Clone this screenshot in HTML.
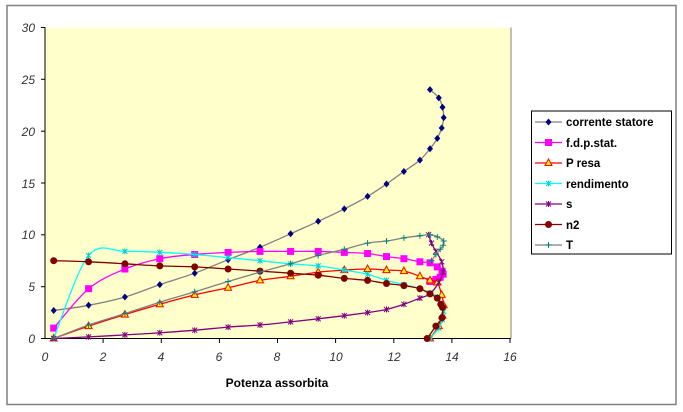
<!DOCTYPE html>
<html><head><meta charset="utf-8"><style>
html,body{margin:0;padding:0;background:#fff;}
svg{display:block;font-family:"Liberation Sans",sans-serif;}
.t{font-size:12px;fill:#333;font-style:italic;}
.l{font-size:12px;font-weight:bold;fill:#000;}
</style></head><body>
<svg id="s" width="683" height="412" viewBox="0 0 683 412">
<rect x="7" y="5.5" width="669" height="399" fill="#fff" stroke="#808080" stroke-width="1.5"/>
<rect x="45" y="27.5" width="466" height="311" fill="#ffffcc"/>
<line x1="45" y1="27" x2="45" y2="339" stroke="#000"/>
<line x1="45" y1="338.5" x2="511" y2="338.5" stroke="#000"/>
<line x1="511" y1="27.5" x2="511" y2="338.5" stroke="#808080"/>
<g stroke="#000">
<line x1="41" y1="27.5" x2="45" y2="27.5"/><line x1="41" y1="79.3" x2="45" y2="79.3"/><line x1="41" y1="131.2" x2="45" y2="131.2"/><line x1="41" y1="183" x2="45" y2="183"/><line x1="41" y1="234.8" x2="45" y2="234.8"/><line x1="41" y1="286.7" x2="45" y2="286.7"/><line x1="41" y1="338.5" x2="45" y2="338.5"/>
<line x1="103.1" y1="338" x2="103.1" y2="343"/><line x1="161.3" y1="338" x2="161.3" y2="343"/><line x1="219.4" y1="338" x2="219.4" y2="343"/><line x1="277.5" y1="338" x2="277.5" y2="343"/><line x1="335.6" y1="338" x2="335.6" y2="343"/><line x1="393.8" y1="338" x2="393.8" y2="343"/><line x1="451.9" y1="338" x2="451.9" y2="343"/><line x1="510" y1="338" x2="510" y2="343"/>
</g>
<g class="t" text-anchor="end">
<text x="35" y="32">30</text><text x="35" y="84">25</text><text x="35" y="136">20</text><text x="35" y="188">15</text><text x="35" y="239">10</text><text x="35" y="291">5</text><text x="35" y="343">0</text>
</g>
<g class="t" text-anchor="middle">
<text x="45" y="361">0</text><text x="103" y="361">2</text><text x="161" y="361">4</text><text x="219" y="361">6</text><text x="277" y="361">8</text><text x="336" y="361">10</text><text x="394" y="361">12</text><text x="452" y="361">14</text><text x="510" y="361">16</text>
</g>
<text class="l" x="277" y="387" text-anchor="middle">Potenza assorbita</text>
<g id="series"></g>
<rect x="531.5" y="111" width="140" height="143" fill="#fff" stroke="#000"/>
<g id="leg"></g>
<g class="l" style="font-size:11.5px">
<text x="566" y="126">corrente statore</text>
<text x="566" y="147">f.d.p.stat.</text>
<text x="566" y="167">P resa</text>
<text x="566" y="188">rendimento</text>
<text x="566" y="208">s</text>
<text x="566" y="229">n2</text>
<text x="566" y="249">T</text>
</g>
</svg>
<script>
var X=[0.3,1.5,2.75,3.95,5.15,6.3,7.4,8.45,9.4,10.3,11.1,11.75,12.35,12.9,13.25,13.5,13.65,13.72,13.68,13.55,13.25];
var S=[
{y:[2.7,3.2,4.0,5.2,6.3,7.6,8.8,10.1,11.3,12.5,13.7,14.9,16.1,17.2,18.3,19.3,20.3,21.3,22.3,23.2,24.0],lc:"#808080",m:"d",mc:"#000080"},
{y:[1.0,4.8,6.7,7.7,8.1,8.3,8.4,8.4,8.4,8.3,8.2,7.9,7.7,7.4,7.3,6.9,6.5,6.2,5.9,5.7,5.5],lc:"#ff00ff",m:"sq",mc:"#ff00ff",x:[0.3,1.5,2.75,3.95,5.15,6.3,7.4,8.45,9.4,10.3,11.1,11.75,12.35,12.9,13.25,13.5,13.66,13.7,13.6,13.45,13.25]},
{y:[0,1.2,2.3,3.3,4.2,4.9,5.6,6.0,6.4,6.6,6.7,6.6,6.5,6.0,5.6,5.4,4.2,3.2,2.2,1.2,0],lc:"#ff0000",m:"tri",mc:"#ffff00"},
{y:[0,8.0,8.4,8.3,8.1,7.8,7.5,7.2,7.0,6.6,6.2,5.6,5.2,4.8,4.4,4.0,3.3,2.6,1.8,1.0,0],lc:"#00ffff",m:"x",mc:"#00cccc"},
{y:[0,0.15,0.35,0.55,0.8,1.1,1.3,1.6,1.9,2.2,2.5,2.8,3.3,3.9,4.3,5.4,6.4,7.4,8.4,9.2,10.0],lc:"#800080",m:"x",mc:"#800080",x:[0.3,1.5,2.75,3.95,5.15,6.3,7.4,8.45,9.4,10.3,11.1,11.75,12.35,12.9,13.25,13.55,13.7,13.65,13.45,13.3,13.2]},
{y:[7.5,7.4,7.2,7.0,6.9,6.7,6.5,6.3,6.1,5.8,5.6,5.3,5.1,4.8,4.3,3.9,3.3,3.0,2.0,1.2,0],lc:"#800000",m:"c",mc:"#800000",x:[0.3,1.5,2.75,3.95,5.15,6.3,7.4,8.45,9.4,10.3,11.1,11.75,12.35,12.9,13.25,13.5,13.62,13.68,13.66,13.45,13.15]},
{y:[0,1.3,2.4,3.5,4.5,5.5,6.4,7.2,8.0,8.6,9.2,9.4,9.7,9.9,10.0,9.8,9.4,9.0,8.6,8.1,7.5],lc:"#808080",m:"p",mc:"#008080",x:[0.3,1.5,2.75,3.95,5.15,6.3,7.4,8.45,9.4,10.3,11.1,11.75,12.35,12.9,13.25,13.5,13.72,13.7,13.6,13.45,13.3]}
];
function px(x){return 45+x*29.06}function py(y){return 338.5-y*10.37}
function mk(t,x,y,c){
 if(t=="d")return '<path d="M'+x+' '+(y-3.5)+'L'+(x+3)+' '+y+'L'+x+' '+(y+3.5)+'L'+(x-3)+' '+y+'Z" fill="'+c+'"/>';
 if(t=="sq")return '<rect x="'+(x-3.5)+'" y="'+(y-3.5)+'" width="7" height="7" fill="'+c+'"/>';
 if(t=="tri")return '<path d="M'+x+' '+(y-4)+'L'+(x+3.5)+' '+(y+2.5)+'L'+(x-3.5)+' '+(y+2.5)+'Z" fill="'+c+'" stroke="#ff0000"/>';
 if(t=="c")return '<circle cx="'+x+'" cy="'+y+'" r="3.5" fill="'+c+'"/>';
 if(t=="x")return '<path d="M'+(x-2.5)+' '+(y-2.5)+'L'+(x+2.5)+' '+(y+2.5)+'M'+(x+2.5)+' '+(y-2.5)+'L'+(x-2.5)+' '+(y+2.5)+'M'+x+' '+(y-3)+'V'+(y+3)+'" stroke="'+c+'"/>';
 return '<path d="M'+(x-3)+' '+y+'H'+(x+3)+'M'+x+' '+(y-3)+'V'+(y+3)+'" stroke="'+c+'"/>';
}
function smooth(P){var d="M"+P[0][0].toFixed(1)+" "+P[0][1].toFixed(1);
 for(var i=0;i<P.length-1;i++){var p0=P[Math.max(0,i-1)],p1=P[i],p2=P[i+1],p3=P[Math.min(P.length-1,i+2)];
  var c1x=p1[0]+(p2[0]-p0[0])/6,c1y=p1[1]+(p2[1]-p0[1])/6,c2x=p2[0]-(p3[0]-p1[0])/6,c2y=p2[1]-(p3[1]-p1[1])/6;
  d+="C"+c1x.toFixed(1)+" "+c1y.toFixed(1)+" "+c2x.toFixed(1)+" "+c2y.toFixed(1)+" "+p2[0].toFixed(1)+" "+p2[1].toFixed(1);}
 return d;}
var h="",lg="";
S.forEach(function(s,i){var xs=s.x||X;var P=[];
 for(var k=0;k<xs.length;k++)P.push([px(xs[k]),py(s.y[k])]);
 h+='<path d="'+smooth(P)+'" fill="none" stroke="'+s.lc+'" stroke-width="1.3" stroke-linejoin="round"/>';
 for(var k=0;k<xs.length;k++)h+=mk(s.m,+P[k][0].toFixed(1),+P[k][1].toFixed(1),s.mc);
 var ly=122+i*20.5;
 lg+='<line x1="535" y1="'+ly+'" x2="562" y2="'+ly+'" stroke="'+s.lc+'" stroke-width="1.3"/>'+mk(s.m,548.5,ly,s.mc);
});
document.getElementById("series").innerHTML=h;
document.getElementById("leg").innerHTML=lg;
</script>
</body></html>
